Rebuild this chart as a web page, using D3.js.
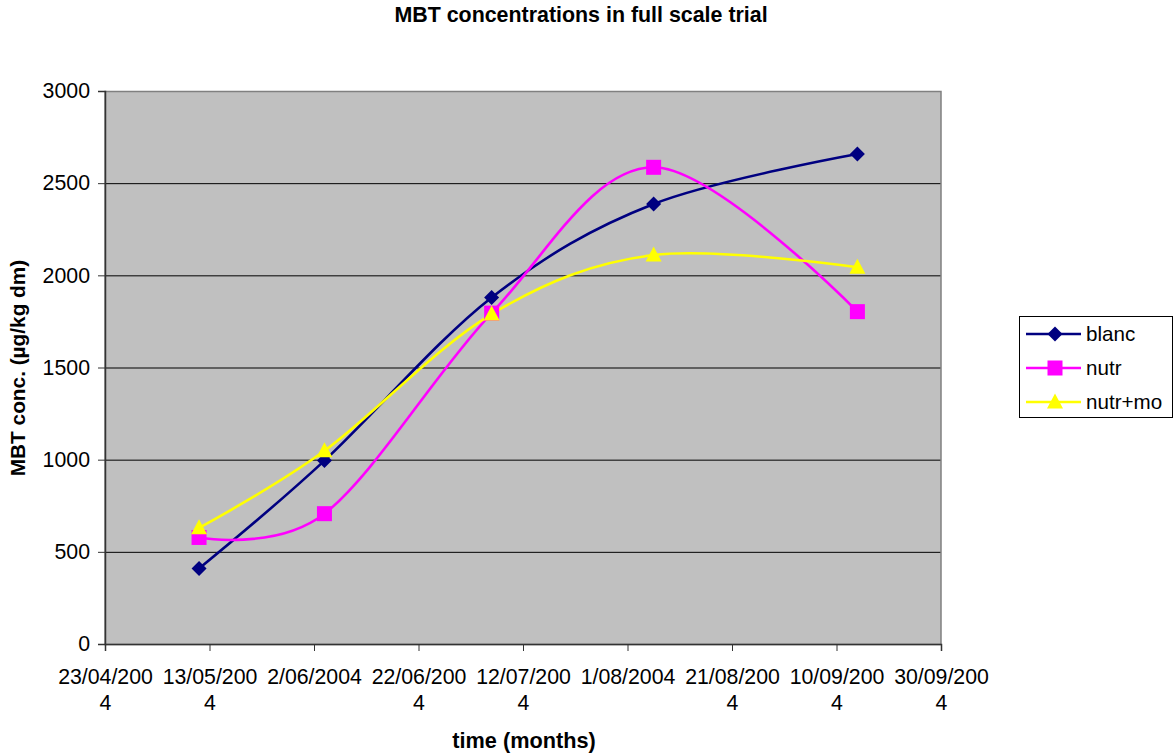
<!DOCTYPE html>
<html>
<head>
<meta charset="utf-8">
<script src="https://cdn.jsdelivr.net/npm/d3@7"></script>
<style>
  html, body { margin: 0; padding: 0; background: #ffffff; }
  svg { display: block; font-family: "Liberation Sans", Arial, sans-serif; }
</style>
</head>
<body>
<svg id="chart" width="1174" height="754"></svg>
<script>
// Sampling dates (d/m/yyyy)
const sampleDates = ["11/05/2004", "4/06/2004", "6/07/2004", "6/08/2004", "14/09/2004"];

// MBT concentrations (µg/kg dm) per treatment
const blanc  = [410, 995, 1880, 2387, 2658];
const nutr   = [578, 707, 1795, 2586, 1803];
const nutrMo = [630, 1048, 1790, 2110, 2044];

const seriesNames = ["blanc", "nutr", "nutr+mo"];

// Axis ticks
const xTickDates = ["23/04/2004", "13/05/2004", "2/06/2004", "22/06/2004", "12/07/2004",
                    "1/08/2004", "21/08/2004", "10/09/2004", "30/09/2004"];
const yTicks = [0, 500, 1000, 1500, 2000, 2500, 3000];

const parse = d3.timeParse("%d/%m/%Y");
const fmt = d3.timeFormat("%-d/%m/%Y");

const svg = d3.select("#chart");
const plot = { left: 105, right: 941, top: 91, bottom: 644 };
const FONT = "Liberation Sans, Arial, sans-serif";

const x = d3.scaleTime()
  .domain([parse(xTickDates[0]), parse(xTickDates[xTickDates.length - 1])])
  .range([plot.left, plot.right]);
const y = d3.scaleLinear().domain([0, 3000]).range([plot.bottom, plot.top]);

// Title
svg.append("text")
  .attr("x", 581).attr("y", 22)
  .attr("text-anchor", "middle")
  .attr("font-size", 21.4).attr("font-weight", "bold")
  .text("MBT concentrations in full scale trial");

// Plot background
svg.append("rect")
  .attr("x", plot.left).attr("y", plot.top)
  .attr("width", plot.right - plot.left).attr("height", plot.bottom - plot.top)
  .attr("fill", "#c0c0c0");

// Gridlines
svg.append("g").selectAll("line")
  .data(yTicks.filter(v => v > 0 && v < 3000))
  .join("line")
  .attr("x1", plot.left).attr("x2", plot.right)
  .attr("y1", d => y(d) + 0.5).attr("y2", d => y(d) + 0.5)
  .attr("stroke", "#000").attr("stroke-width", 1);

// Plot border
svg.append("rect")
  .attr("x", plot.left).attr("y", plot.top + 0.5)
  .attr("width", plot.right - plot.left).attr("height", plot.bottom - plot.top)
  .attr("fill", "none").attr("stroke", "#808080").attr("stroke-width", 1.5);

// Y axis
const yAxis = d3.axisLeft(y).tickValues(yTicks).tickFormat(d3.format("d"))
  .tickSize(7).tickPadding(8);
const gy = svg.append("g").attr("transform", `translate(${plot.left},0)`).call(yAxis);
gy.select(".domain").attr("stroke", "#333").attr("stroke-width", 1.5);
gy.selectAll(".tick line").attr("stroke", "#333");
gy.selectAll(".tick text").attr("font-size", 21.3).attr("fill", "#000")
  .attr("font-family", FONT);

// X axis
const xAxis = d3.axisBottom(x)
  .tickValues(xTickDates.map(parse))
  .tickFormat(fmt).tickSize(7).tickPadding(0);
const gx = svg.append("g").attr("transform", `translate(0,${plot.bottom})`).call(xAxis);
gx.select(".domain").attr("stroke", "#333").attr("stroke-width", 1.5);
gx.selectAll(".tick line").attr("stroke", "#333");

// Wrap long date labels onto a second line
gx.selectAll(".tick text").each(function () {
  const t = d3.select(this);
  const full = t.text();
  t.text(null).attr("font-size", 21.3).attr("fill", "#000")
    .attr("font-family", FONT).attr("dy", null).attr("y", 0);
  const l1 = t.append("tspan").attr("x", 0).attr("y", 40).text(full);
  let first = full, rest = "";
  while (l1.node().getComputedTextLength() > 100 && first.length > 1) {
    rest = first.slice(-1) + rest;
    first = first.slice(0, -1);
    l1.text(first);
  }
  if (rest) t.append("tspan").attr("x", 0).attr("y", 66).text(rest);
});

// Axis titles
svg.append("text")
  .attr("x", 524).attr("y", 748)
  .attr("text-anchor", "middle")
  .attr("font-size", 21.7).attr("font-weight", "bold")
  .text("time (months)");

svg.append("text")
  .attr("transform", "translate(25,368) rotate(-90)")
  .attr("text-anchor", "middle")
  .attr("font-size", 20.8).attr("font-weight", "bold")
  .text("MBT conc. (µg/kg dm)");

// Series
const colors = ["#000080", "#ff00ff", "#ffff00"];
const shapes = ["diamond", "square", "triangle"];
const values = [blanc, nutr, nutrMo];
const dates = sampleDates.map(parse);

function marker(sel, shape, color) {
  if (shape === "diamond") {
    sel.append("path").attr("d", "M0,-7.5L7.5,0L0,7.5L-7.5,0Z").attr("fill", color);
  } else if (shape === "square") {
    sel.append("rect").attr("x", -7.5).attr("y", -7.5).attr("width", 15).attr("height", 15).attr("fill", color);
  } else {
    sel.append("path").attr("d", "M0,-8.5L8,6.5L-8,6.5Z").attr("fill", color);
  }
}

const line = d3.line()
  .x(d => x(d.date)).y(d => y(d.v))
  .curve(d3.curveCardinal.tension(0));

values.forEach((vals, i) => {
  const pts = vals.map((v, j) => ({ date: dates[j], v }));
  svg.append("path").datum(pts)
    .attr("d", line)
    .attr("fill", "none").attr("stroke", colors[i]).attr("stroke-width", 2.6);
});
values.forEach((vals, i) => {
  vals.forEach((v, j) => {
    const g = svg.append("g").attr("transform", `translate(${x(dates[j])},${y(v)})`);
    marker(g, shapes[i], colors[i]);
  });
});

// Legend
const lg = svg.append("g");
lg.append("rect").attr("x", 1019.5).attr("y", 316.5).attr("width", 153).attr("height", 101)
  .attr("fill", "#fff").attr("stroke", "#000").attr("stroke-width", 1);
seriesNames.forEach((name, i) => {
  const cy = 334 + i * 34;
  lg.append("line").attr("x1", 1026).attr("x2", 1081).attr("y1", cy).attr("y2", cy)
    .attr("stroke", colors[i]).attr("stroke-width", 2.6);
  marker(lg.append("g").attr("transform", `translate(1055,${cy})`), shapes[i], colors[i]);
  lg.append("text").attr("x", 1086).attr("y", cy + 7)
    .attr("font-size", 20.6).text(name);
});
</script>
</body>
</html>
